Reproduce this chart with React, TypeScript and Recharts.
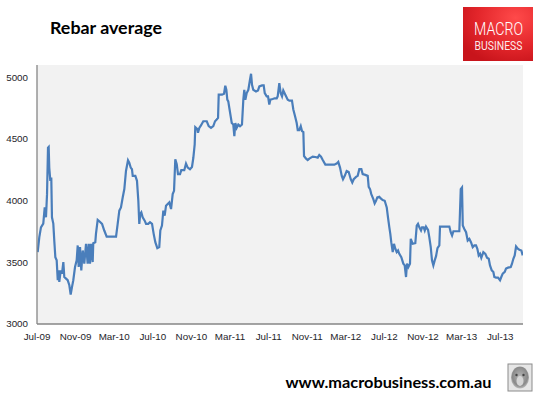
import React from "react";
import { LineChart, Line, XAxis, YAxis, CartesianGrid } from "recharts";

// months since Jul-2009
const months: number[] = [
  0.07, 0.24, 0.41, 0.65, 0.8, 0.93, 1.04, 1.14, 1.21, 1.27, 1.38, 1.48, 1.55, 1.69, 1.79, 1.9,
  2.04, 2.15, 2.25, 2.31, 2.46, 2.59, 2.73, 2.83, 3.01, 3.18, 3.35, 3.49, 3.63, 3.76, 3.94,
  4.11, 4.22, 4.32, 4.46, 4.59, 4.74, 4.9, 5.08, 5.25, 5.36, 5.49, 5.6, 5.77, 5.83, 6.04,
  6.11, 6.29, 6.46, 6.74, 6.97, 7.22, 7.67, 8.19, 8.36, 8.53, 8.7, 8.88, 9.05, 9.22, 9.43,
  9.56, 9.71, 9.84, 9.92, 10.19, 10.36, 10.5, 10.6, 10.7, 10.81, 10.95, 11.16, 11.3, 11.53,
  11.71, 11.92, 12.09, 12.26, 12.47, 12.67, 12.78, 12.95, 13.09, 13.23, 13.37, 13.54, 13.71,
  13.89, 14.06, 14.2, 14.33, 14.48, 14.61, 14.82, 14.95, 15.26, 15.44, 15.62, 15.85, 16.06,
  16.2, 16.34, 16.4, 16.61, 16.68, 16.82, 16.99, 17.23, 17.59, 17.79, 18.03, 18.27, 18.45,
  18.62, 18.76, 18.83, 19.17, 19.38, 19.51, 19.62, 19.72, 19.82, 19.93, 20.07, 20.18, 20.34,
  20.45, 20.55, 20.69, 20.86, 21.04, 21.24, 21.38, 21.48, 21.59, 21.73, 21.9, 22.07, 22.18,
  22.28, 22.41, 22.69, 22.9, 23.04, 23.32, 23.49, 23.6, 23.8, 23.94, 24.07, 24.18, 24.42,
  24.63, 24.84, 24.94, 25.11, 25.25, 25.39, 25.52, 25.73, 25.98, 26.15, 26.42, 26.56, 26.74,
  26.91, 27.02, 27.18, 27.33, 27.46, 27.6, 27.67, 27.88, 28.05, 28.22, 28.57, 28.84, 29.09,
  29.25, 29.43, 29.61, 29.88, 30.29, 30.81, 31.09, 31.22, 31.4, 31.58, 31.71, 31.89, 32.09,
  32.3, 32.51, 32.67, 32.82, 33.06, 33.23, 33.4, 33.61, 33.75, 34.02, 34.27, 34.37, 34.51,
  34.64, 34.85, 34.99, 35.13, 35.26, 35.47, 35.62, 35.82, 36.03, 36.24, 36.37, 36.51, 36.61,
  36.71, 36.86, 36.99, 37.13, 37.27, 37.41, 37.54, 37.75, 37.96, 38.1, 38.24, 38.34, 38.48,
  38.65, 38.73, 38.93, 39.2, 39.35, 39.48, 39.62, 39.79, 39.9, 40.07, 40.18, 40.31, 40.52,
  40.65, 40.8, 40.93, 41.07, 41.21, 41.35, 41.5, 41.69, 41.76, 42.04, 42.38, 42.73, 42.87,
  43.01, 43.15, 43.76, 43.83, 43.91, 44.04, 44.12, 44.28, 44.46, 44.63, 44.8, 44.97, 45.15,
  45.32, 45.49, 45.63, 45.77, 45.91, 46.04, 46.25, 46.46, 46.63, 46.81, 46.94, 47.12, 47.29,
  47.39, 47.56, 47.77, 47.98, 48.11, 48.26, 48.47, 48.6, 48.81, 49.09, 49.22, 49.36, 49.5,
  49.64, 49.82, 49.98, 50.19, 50.33,
];

const rebar: number[] = [
  3583, 3704, 3784, 3814, 3945, 3865, 4053, 4429, 4435, 4268, 4161, 4187, 3865, 3814, 3677, 3542,
  3516, 3355, 3435, 3341, 3435, 3408, 3502, 3381, 3368, 3355, 3314, 3239, 3301, 3355, 3462,
  3516, 3637, 3462, 3623, 3435, 3596, 3489, 3650, 3489, 3650, 3489, 3650, 3502, 3655, 3663,
  3731, 3844, 3833, 3812, 3758, 3709, 3709, 3709, 3812, 3919, 3945, 4026, 4094, 4241, 4327,
  4308, 4268, 4255, 4201, 4201, 4161, 3999, 3812, 3892, 3905, 3865, 3838, 3812, 3812,
  3825, 3812, 3731, 3663, 3615, 3623, 3758, 3798, 3919, 3879, 3959, 3973, 3986,
  3932, 4053, 4080, 4336, 4295, 4215, 4215, 4247, 4247, 4300, 4268, 4255, 4273,
  4348, 4456, 4596, 4580, 4550, 4590, 4610, 4644, 4644, 4604, 4590, 4604, 4644,
  4658, 4671, 4859, 4859, 4867, 4932, 4899, 4819, 4805, 4751, 4684, 4630, 4617,
  4523, 4630, 4590, 4617, 4604, 4617, 4819, 4899, 4819, 4872, 4899, 4980, 5029,
  4940, 4899, 4886, 4894, 4926, 4934, 4934, 4872, 4846, 4846, 4779, 4819, 4824,
  4830, 4830, 4846, 4953, 4872, 4846, 4894, 4859, 4819, 4811, 4811, 4739, 4684,
  4630, 4572, 4572, 4604, 4564, 4556, 4362, 4341, 4330, 4341, 4357, 4354, 4349,
  4370, 4357, 4330, 4292, 4292, 4292, 4303, 4314, 4268, 4201, 4174, 4201, 4241,
  4233, 4174, 4147, 4174, 4193, 4201, 4255, 4255, 4215, 4209, 4201, 4112, 4094,
  4053, 4013, 3978, 3999, 4026, 4032, 4018, 4005, 3999, 3945, 3865, 3784, 3731,
  3663, 3583, 3650, 3610, 3583, 3596, 3569, 3542, 3489, 3475, 3381, 3489, 3462,
  3489, 3690, 3650, 3655, 3798, 3812, 3784, 3758, 3784, 3784, 3758, 3790, 3763,
  3704, 3623, 3516, 3475, 3516, 3550, 3615, 3637, 3790, 3790, 3790, 3790, 3744,
  3717, 3752, 3752, 3905, 4094, 4107, 3798, 3771, 3744, 3677, 3690, 3663, 3623,
  3637, 3637, 3610, 3556, 3569, 3537, 3583, 3569, 3537, 3529, 3475, 3435, 3422,
  3381, 3376, 3376, 3355, 3381, 3408, 3422, 3449, 3457, 3462, 3489, 3529, 3556,
  3629, 3610, 3602, 3596, 3556,
];

const tickMonths: number[] = [0, 4, 8, 12, 16, 20, 24, 28, 32, 36, 40, 44, 48];
const tickLabels: string[] = [
  "Jul-09", "Nov-09", "Mar-10", "Jul-10", "Nov-10", "Mar-11", "Jul-11",
  "Nov-11", "Mar-12", "Jul-12", "Nov-12", "Mar-13", "Jul-13",
];
const yTicks: number[] = [3000, 3500, 4000, 4500, 5000];

const data = months.map((m, i) => ({ m, v: rebar[i] }));

const axisFont = { fontFamily: "Liberation Sans, Arial, sans-serif", fontSize: 9.8, fill: "#1e1e2a" };

export default function App() {
  return (
    <div style={{ position: "absolute", left: 0, top: 0, width: 540, height: 395, background: "#fff" }}>
      <LineChart
        width={540}
        height={395}
        data={data}
        margin={{ top: 65, right: 17, bottom: 41, left: 0 }}
      >
        <CartesianGrid fill="#f2f2f2" horizontal={false} vertical={false} stroke="none" />
        <XAxis
          dataKey="m"
          type="number"
          domain={[0, 50.36]}
          ticks={tickMonths}
          tickFormatter={(v: number) => tickLabels[tickMonths.indexOf(v)] ?? ""}
          tickLine={false}
          axisLine={{ stroke: "#868686", strokeWidth: 1.3 }}
          tick={axisFont}
          tickMargin={3}
          height={30}
          interval={0}
          allowDataOverflow
        />
        <YAxis
          type="number"
          domain={[3000, 5100]}
          ticks={yTicks}
          tickLine={false}
          axisLine={{ stroke: "#868686", strokeWidth: 1.3 }}
          tick={axisFont}
          tickMargin={3}
          width={37}
          interval={0}
          allowDataOverflow
        />
        <Line
          type="linear"
          dataKey="v"
          stroke="#4a7ebb"
          strokeWidth={2.2}
          dot={false}
          activeDot={false}
          isAnimationActive={false}
        />
      </LineChart>
      <svg
        width={540}
        height={395}
        style={{ position: "absolute", left: 0, top: 0, pointerEvents: "none" }}
      >
        <defs>
          <radialGradient id="logoGrad" cx="75%" cy="20%" r="90%">
            <stop offset="0%" stopColor="#ff4a4a" />
            <stop offset="60%" stopColor="#e3262b" />
            <stop offset="100%" stopColor="#c8141b" />
          </radialGradient>
          <radialGradient id="wolfGrad" cx="50%" cy="45%" r="60%">
            <stop offset="0%" stopColor="#b5b5b5" />
            <stop offset="70%" stopColor="#8a8a8a" />
            <stop offset="100%" stopColor="#d0d0d0" />
          </radialGradient>
        </defs>
        <text
          x={50}
          y={33.5}
          fontFamily="Lato, 'Open Sans', sans-serif"
          fontWeight={700}
          fontSize={17.5}
          fill="#000"
          textLength={112}
          lengthAdjust="spacingAndGlyphs"
        >
          Rebar average
        </text>
        <rect x={463} y={7} width={70} height={54} fill="url(#logoGrad)" />
        <text
          x={474}
          y={34.5}
          fontFamily="Roboto, sans-serif"
          fontWeight={300}
          fontSize={19}
          fill="#fff"
          textLength={49}
          lengthAdjust="spacingAndGlyphs"
        >
          MACRO
        </text>
        <text
          x={474.5}
          y={50}
          fontFamily="Roboto, sans-serif"
          fontWeight={400}
          fontSize={12.5}
          fill="#fff"
          fillOpacity={0.92}
          textLength={48}
          lengthAdjust="spacingAndGlyphs"
        >
          BUSINESS
        </text>
        <text
          x={285.5}
          y={388}
          fontFamily="Lato, 'Open Sans', sans-serif"
          fontWeight={700}
          fontSize={16}
          fill="#000"
          textLength={206}
          lengthAdjust="spacingAndGlyphs"
        >
          www.macrobusiness.com.au
        </text>
        <rect x={508} y={364} width={24} height={27} fill="#e6e6e6" stroke="#8c8c8c" strokeWidth={1} />
        <ellipse cx={520} cy={377.5} rx={9} ry={11} fill="url(#wolfGrad)" />
        <ellipse cx={520} cy={381} rx={3.5} ry={5} fill="#d5d5d5" />
        <circle cx={516.5} cy={375} r={1.2} fill="#444" />
        <circle cx={523.5} cy={375} r={1.2} fill="#444" />
      </svg>
    </div>
  );
}
